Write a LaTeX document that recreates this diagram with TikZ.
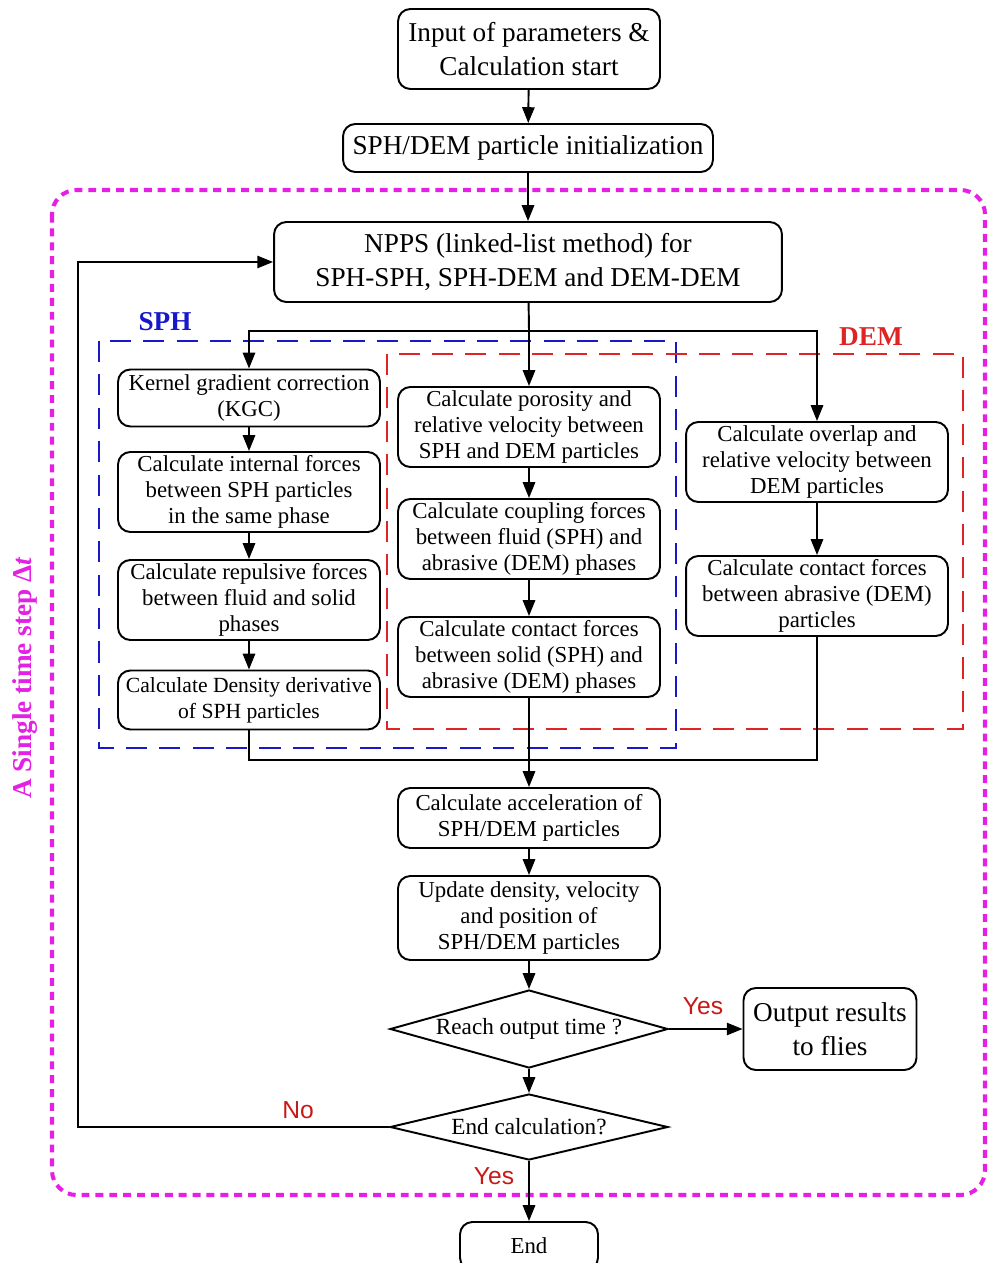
\documentclass[tikz,border=0pt]{standalone}
\usepackage{fontspec}
\setmainfont{Liberation Serif}
\newfontfamily\yesfont{Liberation Sans}
\usetikzlibrary{shapes.geometric, arrows.meta}

\definecolor{loopmag}{RGB}{228,32,228}
\definecolor{sphblue}{RGB}{24,24,200}
\definecolor{demred}{RGB}{222,36,36}
\definecolor{yesred}{RGB}{200,24,24}

\tikzset{
  box/.style={draw, line width=1.1pt, rounded corners=7pt, align=center,
    minimum width=5.24cm, minimum height=1.6cm, inner sep=2pt,
    font=\fontsize{13}{14.7}\selectfont},
  bigbox/.style={box, font=\fontsize{15.5}{19.5}\selectfont},
  decision/.style={draw, diamond, line width=1.1pt, inner sep=0pt, aspect=3.6,
    minimum width=5.56cm, minimum height=1.56cm,
    font=\fontsize{13.2}{15}\selectfont},
  flow/.style={line width=1.1pt, -{Triangle[length=9pt, width=7pt]}},
  plain/.style={line width=1.1pt},
  yesno/.style={text=yesred, font=\yesfont\fontsize{14}{16}\selectfont},
  grouplabel/.style={font=\bfseries\fontsize{15.5}{17}\selectfont},
}

\begin{document}
\begin{tikzpicture}[x=0.02cm, y=-0.02cm]
  \useasboundingbox (0,0) rectangle (987,1263);

  % Time step loop
  \draw[loopmag, line width=2.3pt, dash pattern=on 4.5pt off 3.4pt, rounded corners=14pt]
     (52,190) rectangle (985,1195);
  \node[loopmag, rotate=90, font=\bfseries\fontsize{15.5}{17}\selectfont] (steplabel)
     at (25,678) {A Single time step Δ\textit{t}};

  % SPH / DEM groups
  \draw[sphblue, line width=1.6pt, dash pattern=on 12pt off 7pt] (99,341) rectangle (676,748);
  \node[sphblue, grouplabel] (sphlabel) at (165,322) {SPH};
  \draw[demred, line width=1.6pt, dash pattern=on 12pt off 7pt] (387,354) rectangle (963,729);
  \node[demred, grouplabel] (demlabel) at (871,337) {DEM};

  % Top
  \node[bigbox] (start) at (529,49) {Input of parameters \&\\Calculation start};
  \node[bigbox, minimum width=7.4cm, minimum height=0.96cm] (init) at (528,148)
     {SPH/DEM particle initialization};
  \node[bigbox, minimum width=10.16cm] (npps) at (528,262)
     {NPPS (linked-list method) for\\SPH-SPH, SPH-DEM and DEM-DEM};

  % SPH column
  \node[box, minimum height=1.14cm] (kgc) at (249,398) {Kernel gradient correction\\(KGC)};
  \node[box] (internal) at (249,492) {Calculate internal forces\\between SPH particles\\in the same phase};
  \node[box] (repulsive) at (249,600) {Calculate repulsive forces\\between fluid and solid\\phases};
  \node[box, minimum height=1.18cm, font=\fontsize{12.3}{14.7}\selectfont] (density) at (249,700)
     {Calculate Density derivative\\of SPH particles};

  % Coupling column
  \node[box] (porosity) at (529,427) {Calculate porosity and\\relative velocity between\\SPH and DEM particles};
  \node[box] (coupling) at (529,539) {Calculate coupling forces\\between fluid (SPH) and\\abrasive (DEM) phases};
  \node[box] (contactsolid) at (529,657) {Calculate contact forces\\between solid (SPH) and\\abrasive (DEM) phases};

  % DEM column
  \node[box] (overlap) at (817,462) {Calculate overlap and\\relative velocity between\\DEM particles};
  \node[box] (contactdem) at (817,596) {Calculate contact forces\\between abrasive (DEM)\\particles};

  % Bottom
  \node[box, minimum height=1.2cm] (accel) at (529,818) {Calculate acceleration of\\SPH/DEM particles};
  \node[box, minimum height=1.68cm] (update) at (529,918) {Update density, velocity\\and position of\\SPH/DEM particles};
  \node[decision] (reach) at (529,1029) {Reach output time ?};
  \node[bigbox, minimum width=3.46cm, minimum height=1.64cm] (output) at (830,1029) {Output results\\to flies};
  \node[decision, aspect=4.2, minimum height=1.32cm] (endcalc) at (529,1127) {End calculation?};
  \node[box, minimum width=2.76cm, minimum height=0.96cm] (finish) at (529,1246) {End};

  % Connectors
  \coordinate (split) at (529,331);
  \coordinate (merge) at (529,760);
  \coordinate (loopleft) at (78,1127);
  \draw[flow] (start) -- (init);
  \draw[flow] (init) -- (npps);
  \draw[plain] (npps) -- (split);
  \draw[flow] (split) -| (kgc.north);
  \draw[flow] (split) -| (overlap.north);
  \draw[flow] (split) -- (porosity);
  \draw[flow] (kgc) -- (internal);
  \draw[flow] (internal) -- (repulsive);
  \draw[flow] (repulsive) -- (density);
  \draw[flow] (porosity) -- (coupling);
  \draw[flow] (coupling) -- (contactsolid);
  \draw[flow] (overlap) -- (contactdem);
  \draw[plain] (density.south) |- (merge) -| (contactdem.south);
  \draw[flow] (contactsolid) -- (accel);
  \draw[flow] (accel) -- (update);
  \draw[flow] (update) -- (reach);
  \draw[flow] (reach) -- (output);
  \draw[flow] (reach) -- (endcalc);
  \draw[flow] (endcalc) -- (finish);
  \draw[flow] (endcalc.west) -- (loopleft) |- (npps.west);

  % Yes / No
  \node[yesno] (yesout) at (703,1006) {Yes};
  \node[yesno] (yesend) at (494,1176) {Yes};
  \node[yesno] (noloop) at (298,1110) {No};
\end{tikzpicture}
\end{document}
